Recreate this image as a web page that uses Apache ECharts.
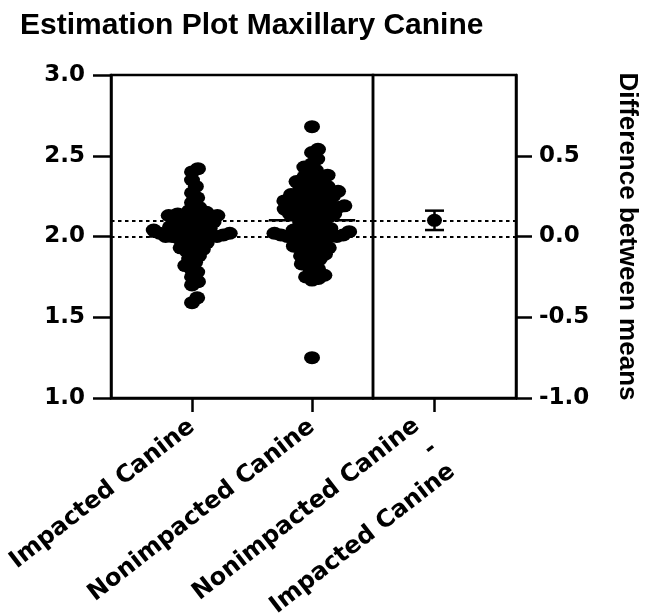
<!DOCTYPE html>
<html>
<head>
<meta charset="utf-8">
<script src="https://cdn.jsdelivr.net/npm/echarts@6/dist/echarts.min.js"></script>
<style>
  html, body { margin: 0; padding: 0; background: #fff; }
  #chart { width: 650px; height: 613px; }
</style>
</head>
<body>
<div id="chart"></div>
<script>
// ---- data ----
const chartTitle = 'Estimation Plot Maxillary Canine';
const groupNames = ['Impacted Canine', 'Nonimpacted Canine'];
const diffLabel = 'Nonimpacted Canine\n-\nImpacted Canine';
const rightAxisName = 'Difference between means';

const impacted = [
  2.42, 2.40, 2.35, 2.31, 2.27, 2.24, 2.21, 2.18, 2.16, 2.15, 2.14, 2.14, 2.13, 2.13,
  2.12, 2.12, 2.11, 2.10, 2.10, 2.09, 2.09, 2.08, 2.07, 2.07, 2.06, 2.05, 2.05, 2.04,
  2.04, 2.03, 2.03, 2.02, 2.02, 2.02, 2.01, 2.01, 2.00, 2.00, 2.00, 2.00, 1.99, 1.99,
  1.98, 1.97, 1.96, 1.95, 1.94, 1.93, 1.92, 1.91, 1.90, 1.88, 1.86, 1.84, 1.82, 1.80,
  1.78, 1.75, 1.72, 1.70, 1.62, 1.59
];

const nonimpacted = [
  2.68,
  2.54, 2.52, 2.48,
  2.45, 2.43, 2.41, 2.40,
  2.38, 2.37, 2.36, 2.35, 2.34,
  2.33, 2.32, 2.31, 2.30, 2.29, 2.28, 2.28,
  2.27, 2.26, 2.25, 2.25, 2.24, 2.24, 2.23, 2.22, 2.22,
  2.21, 2.20, 2.20, 2.19, 2.19, 2.19, 2.18, 2.18, 2.17, 2.17, 2.16, 2.16,
  2.15, 2.14, 2.14, 2.13, 2.12, 2.12, 2.11, 2.10, 2.09, 2.08,
  2.07, 2.06, 2.05, 2.05, 2.04, 2.04, 2.03, 2.03,
  2.02, 2.02, 2.01, 2.01, 2.01, 2.00, 2.00, 2.00, 2.00, 1.99, 1.99,
  1.98, 1.97, 1.96, 1.95, 1.94, 1.93, 1.93, 1.92, 1.91, 1.90,
  1.89, 1.88, 1.87, 1.86, 1.85, 1.83, 1.82, 1.80,
  1.78, 1.76, 1.75, 1.74, 1.73,
  1.25
];

const groupMeans = [2.00, 2.10];      // Impacted, Nonimpacted
const meanDiff = 0.10;                // Nonimpacted - Impacted
const diffCI = [0.04, 0.16];          // 95% CI of the difference
const leftTicks = [1.0, 1.5, 2.0, 2.5, 3.0];
const rightTicks = [-1.0, -0.5, 0.0, 0.5];

// ---- layout ----
const G0 = { left: 111, top: 75, width: 262, height: 323 };   // group panel
const G1 = { left: 373, top: 75, width: 143, height: 323 };   // difference panel
const X0 = [-0.675, 1.508];
const X1 = [-0.43, 0.57];
const Y0 = [1, 3];
const Y1 = [Y0[0] - groupMeans[0], Y0[1] - groupMeans[0]];

const ink = '#000';
const tickFont = 'DejaVu Sans';
const headFont = 'Liberation Sans';
const dotPath = 'path://M0,50A50,50 0 1,0 100,50A50,50 0 1,0 0,50Z';
const dotSize = [16, 13];
const meanHalfWidth = 0.36;

// beeswarm offsets (in pixels) so that dots spread sideways instead of stacking
function swarmOffsets(values, pxPerY, ax, ay) {
  const order = values.map((_, i) => i).sort((a, b) => values[a] - values[b]);
  const placed = [];
  const out = new Array(values.length);
  for (const i of order) {
    const y = values[i] * pxPerY;
    const near = placed.filter(p => Math.abs(p.y - y) < ay);
    const cands = [0];
    near.forEach(p => {
      const dy = (p.y - y) / ay;
      const w = ax * Math.sqrt(Math.max(0, 1 - dy * dy));
      cands.push(p.x + w + 0.01, p.x - w - 0.01);
    });
    cands.sort((a, b) => Math.abs(a) - Math.abs(b));
    let x = 0;
    for (const c of cands) {
      const ok = near.every(p => ((p.x - c) / ax) ** 2 + ((p.y - y) / ay) ** 2 >= 1 - 1e-6);
      if (ok) { x = c; break; }
    }
    placed.push({ x, y });
    out[i] = x;
  }
  return out;
}

const pxPerY = G0.height / (Y0[1] - Y0[0]);
const pxPerX = G0.width / (X0[1] - X0[0]);

function swarmData(values, gi) {
  const offs = swarmOffsets(values, pxPerY, 6.5, 8);
  return values.map((v, i) => [gi + offs[i] / pxPerX, v]);
}

const dotted = { color: ink, width: 2, type: [3.5, 3.5] };
const gridBase = { show: true, borderColor: ink, borderWidth: 2.5, containLabel: false, outerBoundsMode: 'none' };

const option = {
  backgroundColor: '#fff',
  animation: false,
  title: {
    text: chartTitle,
    left: 15, top: 6,
    textStyle: { fontFamily: headFont, fontWeight: 'bold', fontSize: 30, color: ink }
  },
  grid: [
    Object.assign({}, gridBase, G0),
    Object.assign({}, gridBase, G1)
  ],
  xAxis: [
    {
      gridIndex: 0, type: 'value', min: X0[0], max: X0[1],
      axisLine: { onZero: false, lineStyle: { color: ink, width: 2.5 } },
      axisTick: { customValues: [0, 1], length: 14, lineStyle: { color: ink, width: 2.5 } },
      axisLabel: {
        customValues: [0, 1], formatter: v => groupNames[Math.round(v)],
        rotate: 38, margin: 26, color: ink,
        fontFamily: tickFont, fontWeight: 'bold', fontSize: 24
      },
      splitLine: { show: false }
    },
    {
      gridIndex: 1, type: 'value', min: X1[0], max: X1[1],
      axisLine: { onZero: false, lineStyle: { color: ink, width: 2.5 } },
      axisTick: { customValues: [0], length: 14, lineStyle: { color: ink, width: 2.5 } },
      axisLabel: {
        customValues: [0], formatter: () => diffLabel,
        rotate: 38, margin: 48, color: ink, lineHeight: 29,
        fontFamily: tickFont, fontWeight: 'bold', fontSize: 24
      },
      splitLine: { show: false }
    }
  ],
  yAxis: [
    {
      gridIndex: 0, type: 'value', min: Y0[0], max: Y0[1], interval: 0.5,
      axisLine: { show: true, onZero: false, lineStyle: { color: ink, width: 2.5 } },
      axisTick: { show: true, length: 18, lineStyle: { color: ink, width: 2.5 } },
      axisLabel: {
        customValues: leftTicks, formatter: v => v.toFixed(1), margin: 26, color: ink,
        fontFamily: tickFont, fontWeight: 'bold', fontSize: 23
      },
      splitLine: { show: false }
    },
    {
      gridIndex: 1, type: 'value', position: 'right', min: Y1[0], max: Y1[1],
      axisLine: { show: true, onZero: false, lineStyle: { color: ink, width: 2.5 } },
      axisTick: { show: true, customValues: rightTicks, length: 16, lineStyle: { color: ink, width: 2.5 } },
      axisLabel: {
        customValues: rightTicks, formatter: v => v.toFixed(1), margin: 23, color: ink,
        fontFamily: tickFont, fontWeight: 'bold', fontSize: 23
      },
      splitLine: { show: false },
      name: rightAxisName, nameLocation: 'middle', nameRotate: -90, nameGap: 98,
      nameTextStyle: { fontFamily: headFont, fontWeight: 'bold', fontSize: 26, color: ink }
    }
  ],
  series: [
    // reference lines at each group mean, carried across both panels
    {
      type: 'scatter', xAxisIndex: 0, yAxisIndex: 0, data: [], z: 1, silent: true,
      markLine: {
        silent: true, symbol: 'none', label: { show: false }, lineStyle: dotted,
        data: groupMeans.map(m => ({ yAxis: m }))
      }
    },
    {
      type: 'scatter', xAxisIndex: 1, yAxisIndex: 1, data: [], z: 1, silent: true,
      markLine: {
        silent: true, symbol: 'none', label: { show: false }, lineStyle: dotted,
        data: [{ yAxis: 0 }, { yAxis: meanDiff }]
      }
    },
    // group means
    ...groupMeans.map((m, gi) => ({
      type: 'line', xAxisIndex: 0, yAxisIndex: 0, z: 2, silent: true,
      symbol: 'none', lineStyle: { color: ink, width: 2.5 },
      data: [[gi - meanHalfWidth, m], [gi + meanHalfWidth, m]]
    })),
    // individual observations
    {
      type: 'scatter', xAxisIndex: 0, yAxisIndex: 0, z: 3,
      symbol: dotPath, symbolSize: dotSize, itemStyle: { color: ink, opacity: 1 },
      data: swarmData(impacted, 0)
    },
    {
      type: 'scatter', xAxisIndex: 0, yAxisIndex: 0, z: 3,
      symbol: dotPath, symbolSize: dotSize, itemStyle: { color: ink, opacity: 1 },
      data: swarmData(nonimpacted, 1)
    },
    // difference with confidence interval
    {
      type: 'custom', xAxisIndex: 1, yAxisIndex: 1, z: 3,
      data: [[0, diffCI[0], diffCI[1]]],
      renderItem: (params, api) => {
        const lo = api.coord([api.value(0), api.value(1)]);
        const hi = api.coord([api.value(0), api.value(2)]);
        const cap = 9.5;
        const style = { stroke: ink, lineWidth: 2.5 };
        return {
          type: 'group',
          children: [
            { type: 'line', shape: { x1: lo[0], y1: lo[1], x2: hi[0], y2: hi[1] }, style },
            { type: 'line', shape: { x1: lo[0] - cap, y1: lo[1], x2: lo[0] + cap, y2: lo[1] }, style },
            { type: 'line', shape: { x1: hi[0] - cap, y1: hi[1], x2: hi[0] + cap, y2: hi[1] }, style }
          ]
        };
      }
    },
    {
      type: 'scatter', xAxisIndex: 1, yAxisIndex: 1, z: 4,
      symbol: dotPath, symbolSize: [15, 13], itemStyle: { color: ink, opacity: 1 },
      data: [[0, meanDiff]]
    }
  ]
};

const chart = echarts.init(document.getElementById('chart'), null, { renderer: 'canvas' });
chart.setOption(option);
</script>
</body>
</html>
